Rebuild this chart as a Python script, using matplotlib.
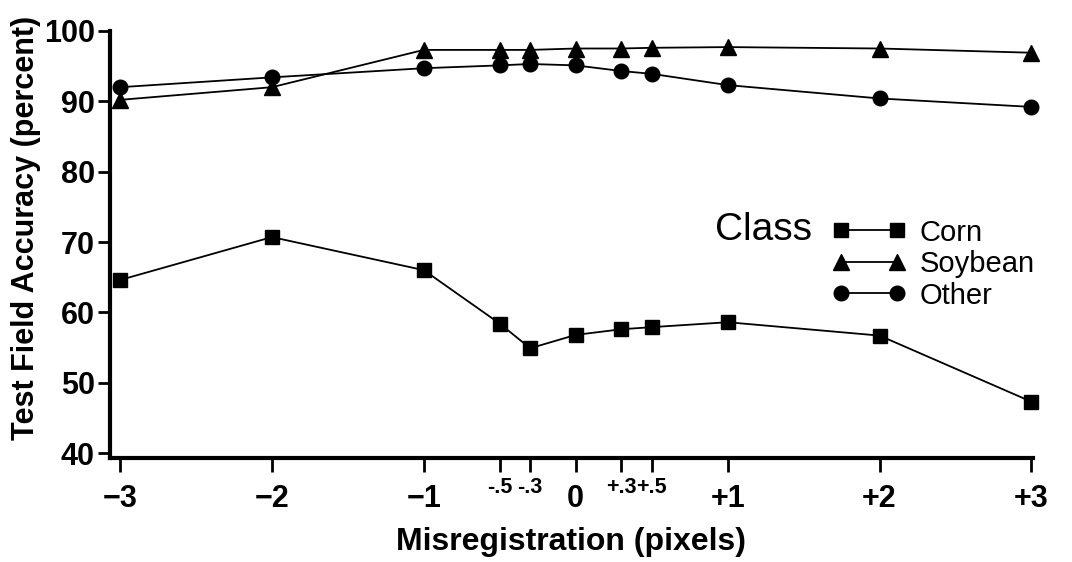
import matplotlib
matplotlib.use("Agg")
import matplotlib.pyplot as plt

# misregistration (pixels) and test field accuracy (percent)
shift = [-3, -2, -1, -0.5, -0.3, 0, 0.3, 0.5, 1, 2, 3]
tick_labels = ["\u22123", "\u22122", "\u22121", "-.5", "-.3", "0",
               "+.3", "+.5", "+1", "+2", "+3"]
corn = [64.6, 70.7, 66.0, 58.4, 54.9, 56.8, 57.6, 57.9, 58.6, 56.7, 47.3]
soybean = [90.2, 92.0, 97.3, 97.3, 97.3, 97.5, 97.5, 97.6, 97.7, 97.5, 96.9]
other = [92.0, 93.4, 94.7, 95.1, 95.3, 95.1, 94.3, 93.9, 92.3, 90.4, 89.2]
yticks = [40, 50, 60, 70, 80, 90, 100]

plt.rcParams["font.family"] = ["Liberation Sans", "DejaVu Sans"]

fig = plt.figure(figsize=(10.72, 5.62), dpi=100)
ax = fig.add_axes([0.1026, 0.185, 0.861, 0.760])

kw = dict(color="black", lw=1.3, clip_on=False)
l1, = ax.plot(shift, corn, marker="s", ms=10, **kw)
l2, = ax.plot(shift, soybean, marker="^", ms=11, **kw)
l3, = ax.plot(shift, other, marker="o", ms=10.5, **kw)

ax.set_xlim(-3.066, 3.01)
ax.set_ylim(39.3, 100)
ax.spines["top"].set_visible(False)
ax.spines["right"].set_visible(False)
ax.spines["left"].set_linewidth(3)
ax.spines["bottom"].set_linewidth(3)

ax.set_yticks(yticks)
ax.set_yticklabels([str(v) for v in yticks], fontsize=22, fontweight="bold")
ax.tick_params(axis="y", length=9, width=2, pad=2)
ax.set_xticks(shift)
ax.set_xticklabels(tick_labels, fontsize=22, fontweight="bold")
ax.tick_params(axis="x", length=10, width=2, pad=9)
small = ("-.5", "-.3", "+.3", "+.5")
for tick, lab in zip(ax.xaxis.get_major_ticks(), tick_labels):
    if lab in small:
        tick.label1.set_fontsize(15.5)
        tick.set_pad(4)

ax.set_xlabel("Misregistration (pixels)", fontsize=23, fontweight="bold", labelpad=9)
ax.set_ylabel("Test Field Accuracy (percent)", fontsize=22, fontweight="bold")
ax.yaxis.set_label_coords(-0.075, 0.539)

leg = ax.legend([l1, l2, l3], ["Corn", "Soybean", "Other"], loc="upper left",
                bbox_to_anchor=(0.77, 0.588), frameon=False, fontsize=21,
                numpoints=2, handlelength=2.5, labelspacing=0.12,
                handletextpad=0.5, borderaxespad=0)
fig.text(0.712, 0.59, "Class", fontsize=28, ha="center", va="center")

fig.savefig("out.png", dpi=100)
